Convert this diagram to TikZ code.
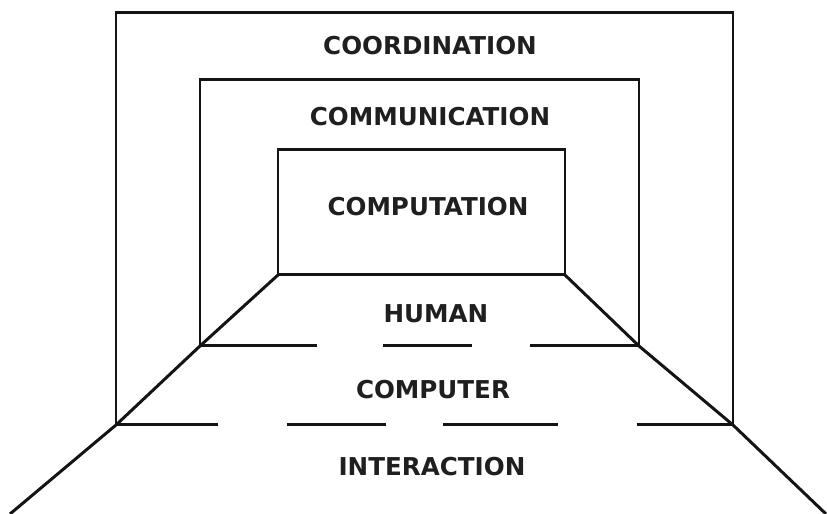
\documentclass[tikz,border=0pt]{standalone}
\usepackage{fontspec}
\setmainfont{DejaVu Sans}
\usepackage{tikz}

\begin{document}
\begin{tikzpicture}[every node/.style={font=\bfseries\fontsize{7pt}{8pt}\selectfont, text=black!88},
	lbl/.style={inner sep=0pt},
	wall/.style={line width=0.85pt, black!92}]
	\useasboundingbox (0,0) rectangle (8.27,5.14);
	% corners of the three frames
	\coordinate (o1) at (1.16,0.89); \coordinate (o2) at (7.33,0.89);
	\coordinate (m1) at (2.00,1.68); \coordinate (m2) at (6.39,1.68);
	\coordinate (i1) at (2.78,2.39); \coordinate (i2) at (5.65,2.39);
	\coordinate (f1) at (0.10,0); \coordinate (f2) at (8.26,0);
	% frames
	\draw[wall] (o1) -- (1.16,5.01) -- (7.33,5.01) -- (o2);
	\draw[wall] (m1) -- (2.00,4.34) -- (6.39,4.34) -- (m2);
	\draw[wall] (i1) rectangle (5.65,3.64);
	% floor edges
	\draw[wall] (i1) -- (m1) -- (o1) -- (f1);
	\draw[wall] (i2) -- (m2) -- (o2) -- (f2);
	% broken floor lines
	\foreach \a/\b in {2.00/3.17, 3.83/4.72, 5.30/6.39}
		\draw[wall] (\a,1.68) -- (\b,1.68);
	\foreach \a/\b in {1.16/2.18, 2.87/3.86, 4.43/5.58, 6.37/7.33}
		\draw[wall] (\a,0.89) -- (\b,0.89);
	% labels
	\foreach \n/\x/\y/\t in {coord/4.30/4.68/COORDINATION, comm/4.30/3.97/COMMUNICATION,
		comp/4.28/3.07/COMPUTATION, human/4.36/2.00/HUMAN, computer/4.33/1.24/COMPUTER,
		inter/4.32/0.47/INTERACTION}
		\node[lbl] (\n) at (\x,\y) {\t};
\end{tikzpicture}
\end{document}
